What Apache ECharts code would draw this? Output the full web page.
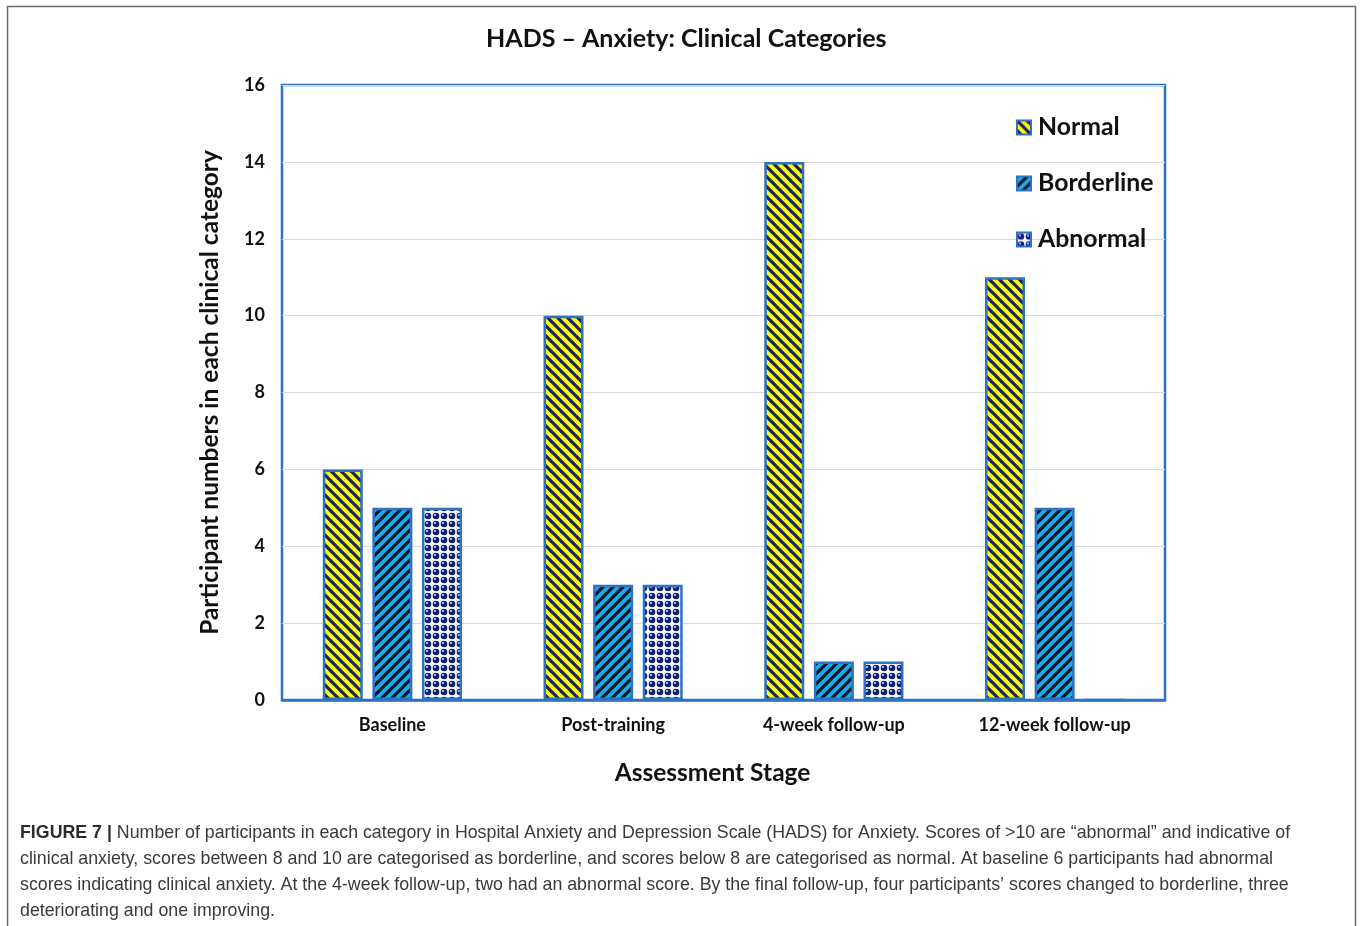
<!DOCTYPE html>
<html>
<head>
<meta charset="utf-8">
<script src="https://cdn.jsdelivr.net/npm/echarts@6/dist/echarts.min.js"></script>
<style>
  html, body { margin: 0; padding: 0; background: #ffffff; }
  #chart { width: 1360px; height: 926px; }
</style>
</head>
<body>
<div id="chart"></div>
<script>
// Assessment stages and participant counts per HADS anxiety category
const stages = ['Baseline', 'Post-training', '4-week follow-up', '12-week follow-up'];
const normalCounts = [6, 10, 14, 11];
const borderlineCounts = [5, 3, 1, 5];
const abnormalCounts = [5, 3, 1, 0];
const seriesNames = ['Normal', 'Borderline', 'Abnormal'];
const yTicks = [0, 2, 4, 6, 8, 10, 12, 14, 16];

const captionLines = [
  ['FIGURE 7 | ', 'Number of participants in each category in Hospital Anxiety and Depression Scale (HADS) for Anxiety. Scores of >10 are \u201cabnormal\u201d and indicative of'],
  ['', 'clinical anxiety, scores between 8 and 10 are categorised as borderline, and scores below 8 are categorised as normal. At baseline 6 participants had abnormal'],
  ['', 'scores indicating clinical anxiety. At the 4-week follow-up, two had an abnormal score. By the final follow-up, four participants\u2019 scores changed to borderline, three'],
  ['', 'deteriorating and one improving.']
];

// Hatched fill: diagonal stripes on a coloured ground
function stripePattern(bg, fg, dir, size, width) {
  const c = document.createElement('canvas');
  c.width = size; c.height = size;
  const g = c.getContext('2d');
  g.fillStyle = bg;
  g.fillRect(0, 0, size, size);
  g.strokeStyle = fg;
  g.lineWidth = width;
  g.lineCap = 'square';
  for (let k = -1; k <= 1; k++) {
    g.beginPath();
    if (dir === 'down') {
      g.moveTo(k * size, 0);
      g.lineTo(k * size + size, size);
    } else {
      g.moveTo(k * size, size);
      g.lineTo(k * size + size, 0);
    }
    g.stroke();
  }
  return { image: c, repeat: 'repeat' };
}

// Grid of shaded navy spheres on white
function spherePattern() {
  const s = 8;
  const c = document.createElement('canvas');
  c.width = s; c.height = s;
  const g = c.getContext('2d');
  g.fillStyle = '#ffffff';
  g.fillRect(0, 0, s, s);
  g.fillStyle = '#13237a';
  g.beginPath();
  g.arc(4, 4, 3.3, 0, Math.PI * 2);
  g.fill();
  g.fillStyle = 'rgba(255,255,255,0.85)';
  g.beginPath();
  g.arc(3, 3, 1.0, 0, Math.PI * 2);
  g.fill();
  return { image: c, repeat: 'repeat' };
}

const fills = [
  stripePattern('#ffff00', '#18265e', 'down', 10, 3.2),
  stripePattern('#1eaae8', '#0b1522', 'up', 10, 3.2),
  spherePattern()
];
const dataSets = [normalCounts, borderlineCounts, abnormalCounts];

const chart = echarts.init(document.getElementById('chart'), null, { renderer: 'canvas' });

const boldFont = 'Lato';

const option = {
  backgroundColor: '#ffffff',
  animation: false,
  title: {
    text: 'HADS \u2013 Anxiety: Clinical Categories',
    left: 481,
    top: 21,
    textStyle: { fontFamily: boldFont, fontWeight: 'bold', fontSize: 25, color: '#111111' }
  },
  legend: {
    orient: 'vertical',
    left: 1011,
    top: 110,
    itemWidth: 14,
    itemHeight: 14,
    itemGap: 31,
    icon: 'rect',
    data: seriesNames,
    textStyle: { fontFamily: boldFont, fontWeight: 'bold', fontSize: 24.8, color: '#111111', padding: [0, 0, 0, 2] }
  },
  grid: {
    left: 282,
    right: 195,
    top: 85,
    bottom: 226,
    show: true,
    borderColor: '#2e72c4',
    borderWidth: 2.5,
    backgroundColor: 'transparent'
  },
  xAxis: {
    type: 'category',
    data: stages,
    name: 'Assessment Stage',
    nameLocation: 'middle',
    nameGap: 61,
    nameTextStyle: { fontFamily: boldFont, fontWeight: 'bold', fontSize: 24.5, color: '#111111', padding: [0, 22, 0, 0] },
    axisLine: { show: true, lineStyle: { color: '#2e72c4', width: 2.5 } },
    axisTick: { show: false },
    axisLabel: { margin: 16, fontFamily: boldFont, fontWeight: 'bold', fontSize: 18, color: '#111111' }
  },
  yAxis: {
    type: 'value',
    min: 0,
    max: 16,
    interval: 2,
    name: 'Participant numbers in each clinical category',
    nameLocation: 'middle',
    nameGap: 59,
    nameTextStyle: { fontFamily: boldFont, fontWeight: 'bold', fontSize: 24.5, color: '#111111' },
    axisLine: { show: false },
    axisTick: { show: false },
    splitLine: { show: true, lineStyle: { color: '#d9d9d9', width: 1.2 } },
    axisLabel: {
      margin: 17,
      fontFamily: boldFont, fontWeight: 'bold', fontSize: 18, color: '#111111',
      formatter: v => (yTicks.indexOf(v) >= 0 ? String(v) : '')
    }
  },
  series: seriesNames.map((name, i) => ({
    name: name,
    type: 'bar',
    data: dataSets[i],
    barWidth: 40,
    barGap: '24%',
    itemStyle: { color: fills[i], borderColor: '#2e72c4', borderWidth: 2.5 },
    emphasis: { disabled: true }
  })),
  graphic: [
    {
      type: 'polyline',
      shape: { points: [[7.5, 926], [7.5, 6.5], [1355.5, 6.5], [1355.5, 926]] },
      style: { stroke: '#6e6e6e', lineWidth: 1.5, fill: null },
      silent: true
    }
  ].concat(captionLines.map((ln, i) => ({
    type: 'text',
    left: 20,
    top: 824 + i * 26,
    silent: true,
    style: {
      text: (ln[0] ? '{b|' + ln[0] + '}' : '') + '{n|' + ln[1] + '}',
      rich: {
        b: { fontFamily: 'Liberation Sans', fontWeight: 'bold', fontSize: 17.8, fill: '#2b2b2b' },
        n: { fontFamily: 'Liberation Sans', fontSize: 17.8, fill: '#3a3a3a' }
      }
    }
  })))
};

chart.setOption(option);
</script>
</body>
</html>
